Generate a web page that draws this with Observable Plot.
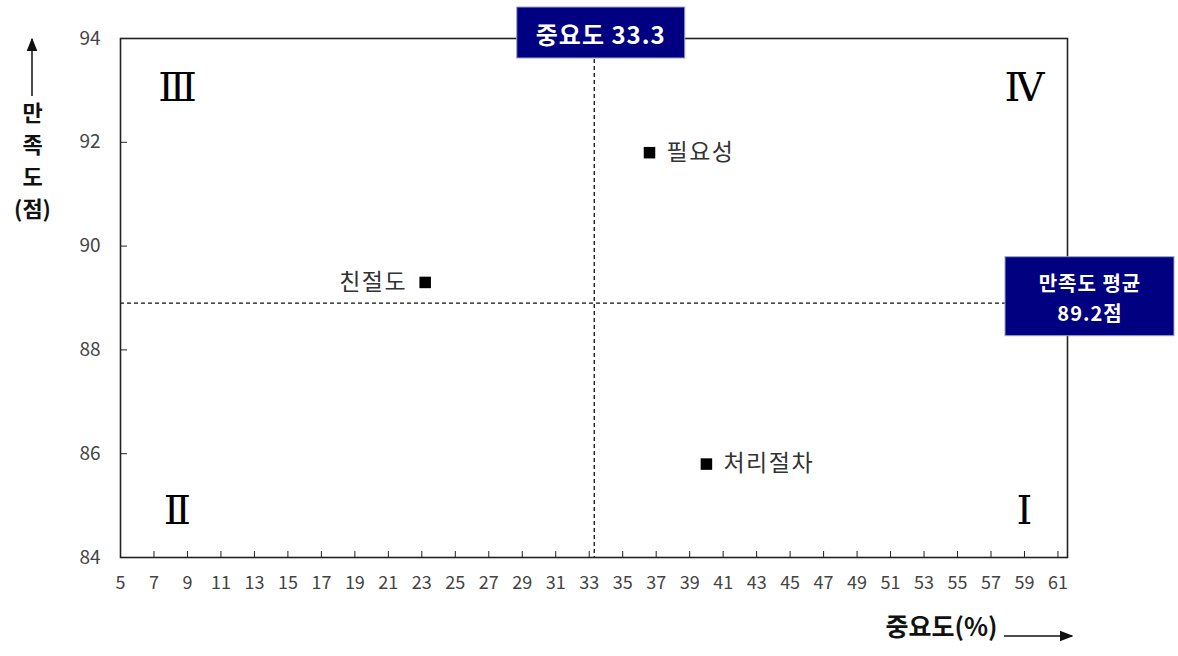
<!DOCTYPE html>
<html><head><meta charset="utf-8">
<script src="https://cdn.jsdelivr.net/npm/d3@7"></script>
<script src="https://cdn.jsdelivr.net/npm/@observablehq/plot@0.6"></script>
<style>
body{margin:0;background:#fff}
#chart{position:relative;width:1178px;height:656px}
</style>
</head><body><div id="chart"></div>
<script>
// ---- data ----
const names = ["친절도", "필요성", "처리절차"];
const importance = [23.2, 36.6, 40.0];     // 중요도(%)
const satisfaction = [89.3, 91.8, 85.8];   // 만족도(점)
const labelSide = ["left", "right", "right"];
const xTicks = [5,7,9,11,13,15,17,19,21,23,25,27,29,31,33,35,37,39,41,43,45,47,49,51,53,55,57,59,61];
const yTicks = [84, 86, 88, 90, 92, 94];
const importanceMean = 33.3;
const satisfactionMeanLine = 88.9;
const importanceMeanLabel = "중요도 33.3";
const satisfactionMeanLabel = ["만족도 평균", "89.2점"];
const quadrantNames = ["Ⅲ", "Ⅳ", "Ⅱ", "Ⅰ"];
const quadrantX = [8.4, 59.0, 8.4, 59.0];
const quadrantY = [93.05, 93.05, 84.9, 84.9];
const xTitle = "중요도(%)";
const yTitle = "만\n족\n도\n(점)";

const points = names.map((n, i) => ({name: n, x: importance[i], y: satisfaction[i], side: labelSide[i]}));
const quads = quadrantNames.map((q, i) => ({q, x: quadrantX[i], y: quadrantY[i]}));

const W = 1178, H = 656, mL = 120, mR = 111, mT = 38, mB = 99;
const innerW = W - mL - mR, innerH = H - mT - mB;
const font = "'Noto Sans CJK KR', 'Noto Sans', sans-serif";

const plot = Plot.plot({
  width: W, height: H,
  marginLeft: mL, marginRight: mR, marginTop: mT, marginBottom: mB,
  style: {fontFamily: font, background: "#fff"},
  x: {domain: [5, 61.57]},
  y: {domain: [84, 94]},
  marks: [
    Plot.ruleX([importanceMean], {stroke: "#111", strokeWidth: 1.3, strokeDasharray: "4,3"}),
    Plot.ruleY([satisfactionMeanLine], {stroke: "#111", strokeWidth: 1.3, strokeDasharray: "4,3"}),
    Plot.tickX(xTicks, {x: d => d, insetTop: innerH - 6, stroke: "#222"}),
    Plot.tickY(yTicks, {y: d => d, insetRight: innerW - 7, stroke: "#222"}),
    Plot.axisX(xTicks, {tickSize: 0, tickPadding: 19, fontSize: 18, color: "#444", label: null, tickFormat: "d"}),
    Plot.axisY(yTicks, {tickSize: 0, tickPadding: 20, fontSize: 19, color: "#444", label: null, tickFormat: "d"}),
    Plot.frame({stroke: "#222", strokeWidth: 1.6}),
    Plot.dot(points, {x: "x", y: "y", symbol: "square", r: 6.5, fill: "#000"}),
    Plot.text(points.filter(d => d.side === "left"), {x: "x", y: "y", text: "name", textAnchor: "end", dx: -18, fontSize: 23, fill: "#333"}),
    Plot.text(points.filter(d => d.side === "right"), {x: "x", y: "y", text: "name", textAnchor: "start", dx: 17, fontSize: 23, fill: "#333"}),
    Plot.text(quads, {x: "x", y: "y", text: "q", fontSize: 40, fontFamily: "'DejaVu Serif', 'Liberation Serif', serif", fill: "#000"}),
    Plot.text([yTitle], {frameAnchor: "top-left", textAnchor: "middle", lineAnchor: "top", dx: -88, dy: 60, lineHeight: 1.45, fontSize: 22, fontWeight: "bold", fill: "#111"}),
    Plot.text([xTitle], {frameAnchor: "bottom-right", textAnchor: "end", dx: -70, dy: 78, fontSize: 25, fontWeight: "bold", fill: "#111"})
  ]
});
document.getElementById("chart").appendChild(plot);
// widen letter spacing on point labels to match reference glyph spacing
d3.select(plot).selectAll("g[aria-label='text'] text").filter(function(){ return names.includes(this.textContent); })
  .attr("letter-spacing", "1.5px");

// ---- decorations: arrows and mean-value boxes ----
const svg = d3.select(plot);
const sx = plot.scale("x"), sy = plot.scale("y");
svg.append("defs").append("marker")
  .attr("id", "ah").attr("viewBox", "0 0 10 10").attr("refX", 9).attr("refY", 5)
  .attr("markerWidth", 9).attr("markerHeight", 9).attr("orient", "auto")
  .append("path").attr("d", "M0,1L10,5L0,9Z").attr("fill", "#111");
svg.append("line").attr("x1", 32).attr("y1", 96).attr("x2", 32).attr("y2", 39)
  .attr("stroke", "#111").attr("stroke-width", 1.5).attr("marker-end", "url(#ah)");
svg.append("line").attr("x1", 1004).attr("y1", 636).attr("x2", 1072).attr("y2", 636)
  .attr("stroke", "#111").attr("stroke-width", 1.5).attr("marker-end", "url(#ah)");

// importance mean box (top)
const bx = sx.apply(importanceMean) + 7;
const g1 = svg.append("g");
g1.append("rect").attr("x", bx - 84).attr("y", 7).attr("width", 168).attr("height", 51)
  .attr("fill", "#000080").attr("stroke", "#9aa3c8").attr("stroke-width", 1);
g1.append("text").attr("x", bx).attr("y", 33).attr("text-anchor", "middle").attr("dominant-baseline", "central")
  .attr("fill", "#fff").attr("font-size", 24).attr("font-weight", "bold").attr("letter-spacing", "1px").attr("font-family", font)
  .text(importanceMeanLabel);

// satisfaction mean box (right)
const by = sy.apply(satisfactionMeanLine) - 6;
const g2 = svg.append("g");
g2.append("rect").attr("x", 1005).attr("y", by - 40).attr("width", 169).attr("height", 79)
  .attr("fill", "#000080").attr("stroke", "#9aa3c8").attr("stroke-width", 1);
satisfactionMeanLabel.forEach((t, i) => {
  g2.append("text").attr("x", 1090).attr("y", by - 14 + i * 30).attr("text-anchor", "middle").attr("dominant-baseline", "central")
    .attr("fill", "#fff").attr("font-size", 20).attr("font-weight", "bold").attr("letter-spacing", "1px").attr("font-family", font)
    .text(t);
});
</script>
</body></html>
